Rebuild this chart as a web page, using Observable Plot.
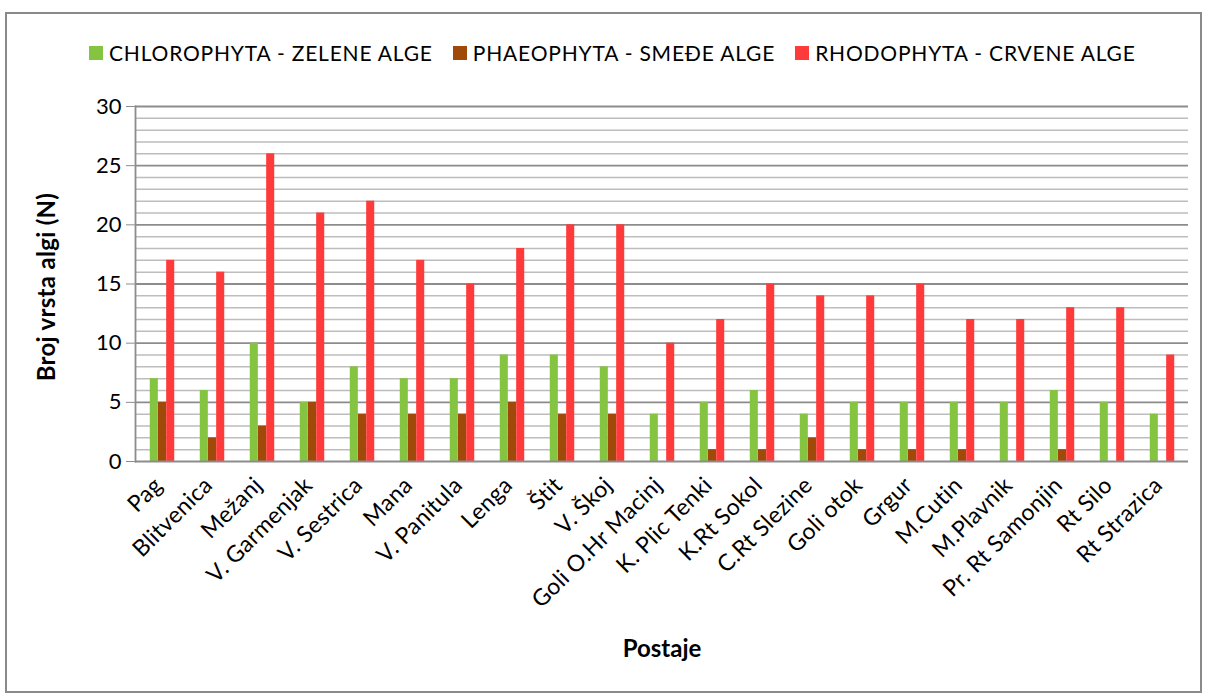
<!DOCTYPE html>
<html>
<head>
<meta charset="utf-8">
<script src="https://cdn.jsdelivr.net/npm/d3@7"></script>
<script src="https://cdn.jsdelivr.net/npm/@observablehq/plot@0.6"></script>
<style>
  html, body { margin: 0; padding: 0; background: #fff; }
  #wrap { position: relative; width: 1206px; height: 696px; overflow: hidden; font-family: Lato, "Open Sans", sans-serif; }
  #border { position: absolute; left: 5px; top: 12px; width: 1197px; height: 681px; border: 2px solid #8a8a8a; box-sizing: border-box; pointer-events: none; }
  #legend { position: absolute; left: 89px; top: 40px; height: 25px; line-height: 25px; display: flex; align-items: center; font-size: 21px; letter-spacing: 0.8px; color: #000; white-space: nowrap; }
  .item { display: flex; align-items: center; margin-right: 20px; }
  .sw { width: 14px; height: 14px; margin-right: 6px; display: inline-block; }
  #ytitle { position: absolute; left: 45px; top: 287px; transform: translate(-50%, -50%) rotate(-90deg); font-weight: bold; font-size: 24px; letter-spacing: 0.3px; white-space: nowrap; color: #000; }
  #chart { position: absolute; left: 0; top: 80px; }
  #chart svg g[aria-label="x-axis tick label"] text { letter-spacing: 0.3px; }
</style>
</head>
<body>
<div id="wrap">
  <div id="border"></div>
  <div id="legend"></div>
  <div id="chart"></div>
  <div id="ytitle"></div>
</div>
<script>
const stations = ["Pag", "Blitvenica", "Mežanj", "V. Garmenjak", "V. Sestrica", "Mana", "V. Panitula", "Lenga", "Štit", "V. Škoj", "Goli O.Hr Macinj", "K. Plic Tenki", "K.Rt Sokol", "C.Rt Slezine", "Goli otok", "Grgur", "M.Cutin", "M.Plavnik", "Pr. Rt Samonjin", "Rt Silo", "Rt Strazica"];
const chlorophyta = [7, 6, 10, 5, 8, 7, 7, 9, 9, 8, 4, 5, 6, 4, 5, 5, 5, 5, 6, 5, 4];
const phaeophyta = [5, 2, 3, 5, 4, 4, 4, 5, 4, 4, 0, 1, 1, 2, 1, 1, 1, 0, 1, 0, 0];
const rhodophyta = [17, 16, 26, 21, 22, 17, 15, 18, 20, 20, 10, 12, 15, 14, 14, 15, 12, 12, 13, 13, 9];
const seriesNames = ["CHLOROPHYTA - ZELENE ALGE", "PHAEOPHYTA - SMEĐE ALGE", "RHODOPHYTA - CRVENE ALGE"];
const seriesColors = ["#84C441", "#A04A0A", "#FF3A3A"];
const yTicks = [0, 5, 10, 15, 20, 25, 30];
const yMinor = d3.range(0, 31);
const yTitle = "Broj vrsta algi (N)";
const xTitle = "Postaje";

const seriesValues = [chlorophyta, phaeophyta, rhodophyta];

// legend
const legend = document.getElementById("legend");
seriesNames.forEach((name, i) => {
  const it = document.createElement("div");
  it.className = "item";
  const sw = document.createElement("span");
  sw.className = "sw";
  sw.style.background = seriesColors[i];
  it.appendChild(sw);
  const t = document.createElement("span");
  t.textContent = name;
  it.appendChild(t);
  legend.appendChild(it);
});
document.getElementById("ytitle").textContent = yTitle;

const W = 1206, H = 616;
const mL = 135, mR = 18, mT = 26, mB = 235;
const step = (W - mL - mR) / stations.length;
const barW = 8.2;
const inset = (step - barW) / 2;

const barMarks = seriesValues.map((vals, i) =>
  Plot.barY(stations.map((s, j) => ({station: s, value: vals[j]})), {
    x: "station", y: "value", fill: seriesColors[i],
    insetLeft: inset, insetRight: inset, dx: (i - 1) * barW
  })
);

const plot = Plot.plot({
  width: W, height: H,
  marginLeft: mL, marginRight: mR, marginTop: mT, marginBottom: mB,
  style: {fontFamily: "Lato, 'Open Sans', sans-serif", color: "#000", background: "transparent"},
  x: {domain: stations, padding: 0, label: null},
  y: {domain: [0, 30], label: null},
  marks: [
    Plot.ruleY(yMinor.filter(v => v % 5 !== 0), {stroke: "#bdbdbd", strokeWidth: 1.5}),
    Plot.ruleY(yTicks.filter(v => v !== 0), {stroke: "#8c8c8c", strokeWidth: 1.8}),
    ...barMarks,
    Plot.ruleY([0], {stroke: "#8c8c8c", strokeWidth: 2}),
    Plot.frame({anchor: "left", stroke: "#8c8c8c", strokeWidth: 1.8}),
    Plot.axisY({ticks: yTicks, tickSize: 9, tickPadding: 5, fontSize: 22, stroke: "#8c8c8c", label: null}),
    Plot.axisX({tickRotate: -45, tickSize: 0, tickPadding: 20, dx: -4, fontSize: 23, label: null}),
    Plot.text([xTitle], {frameAnchor: "bottom", dy: 195, fontSize: 24, fontWeight: "bold", text: d => d})
  ]
});
document.getElementById("chart").appendChild(plot);
</script>
</body>
</html>
